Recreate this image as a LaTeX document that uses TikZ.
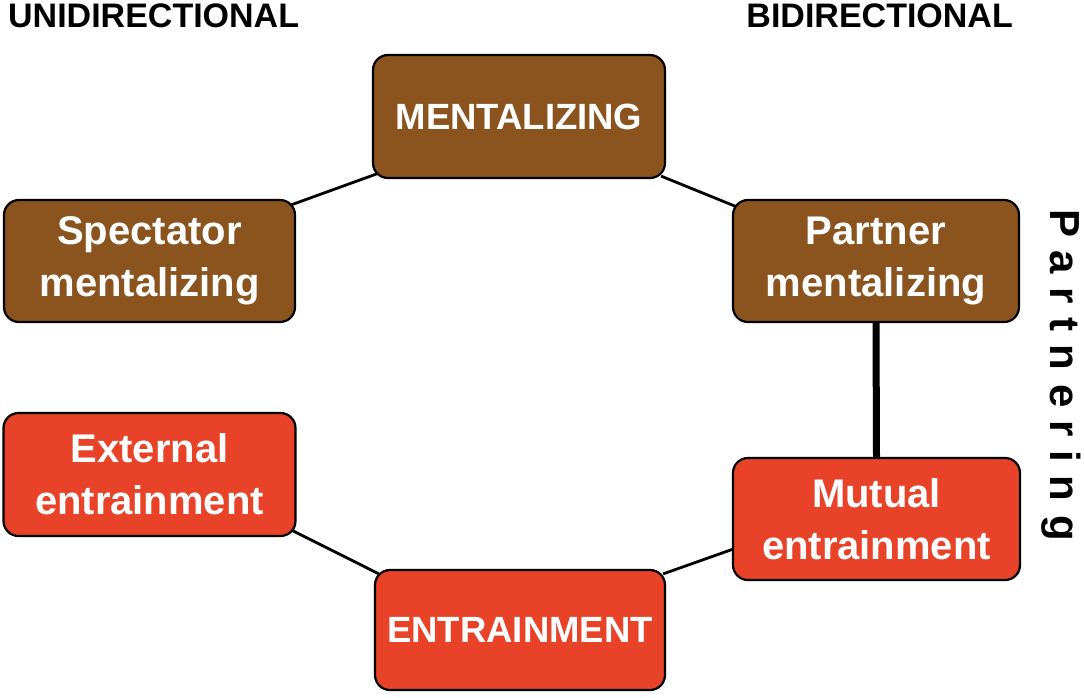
\documentclass[tikz,border=0pt]{standalone}
\usepackage{fontspec}
\setmainfont{Liberation Sans}
\usetikzlibrary{backgrounds,calc}
\definecolor{brownbox}{RGB}{139,84,30}
\definecolor{redbox}{RGB}{232,66,40}
\tikzset{
  box/.style={draw=black, line width=2.2pt, rounded corners=15pt, text=white, align=center, inner sep=0pt},
  brownb/.style={box, fill=brownbox},
  redb/.style={box, fill=redbox},
  capl/.style={font=\fontsize{36.5}{44}\selectfont\bfseries},
  twol/.style={font=\fontsize{40}{52}\selectfont\bfseries},
  head/.style={font=\fontsize{34}{40}\selectfont\bfseries, inner sep=0pt},
  link/.style={draw=black, line width=2.8pt},
  thicklink/.style={draw=black, line width=7pt},
}
\begin{document}
\begin{tikzpicture}[x=1pt,y=-1pt]
\useasboundingbox (0,0) rectangle (1084,697);
\node[head, anchor=base west] (uni) at (8,27) {UNIDIRECTIONAL};
\node[head, anchor=base east] (bi) at (1013,27) {BIDIRECTIONAL};

\node[brownb, capl, minimum width=292pt, minimum height=123pt] (ment) at (519,116.5) {MENTALIZING};
\node[brownb, twol, minimum width=291pt, minimum height=122pt] (spec) at (149.5,261) {Spectator\\mentalizing};
\node[brownb, twol, minimum width=286pt, minimum height=122pt] (part) at (876,261) {Partner\\mentalizing};
\node[redb, twol, minimum width=292pt, minimum height=123pt] (ext) at (149.5,474.5) {External\\entrainment};
\node[redb, twol, minimum width=287pt, minimum height=122pt] (mut) at (876.5,519) {Mutual\\entrainment};
\node[redb, capl, minimum width=290pt, minimum height=120pt] (entr) at (520,630) {ENTRAINMENT};

\node[font=\fontsize{42}{48}\selectfont\bfseries, rotate=-90, inner sep=0pt, anchor=base west] (partn) at (1050,209)
  {P\kern13.5pt a\kern13.5pt r\kern13.5pt t\kern13.5pt n\kern13.5pt e\kern13.5pt r\kern13.5pt i\kern13.5pt n\kern13.5pt g};

\begin{scope}[on background layer]
\draw[link] ($(ment.south west)+(7,-6)$) -- ($(spec.north east)+(-5,6)$);
\draw[link] ($(ment.south east)+(-5,-3)$) -- ($(part.north west)+(5,8)$);
\draw[thicklink] (part.south) -- (mut.north);
\draw[link] ($(ext.south east)+(-5,-7)$) -- ($(entr.north west)+(5,5)$);
\draw[link] ($(entr.north east)+(-3,5)$) -- ($(mut.south west)+(4,-33)$);
\end{scope}
\end{tikzpicture}
\end{document}
